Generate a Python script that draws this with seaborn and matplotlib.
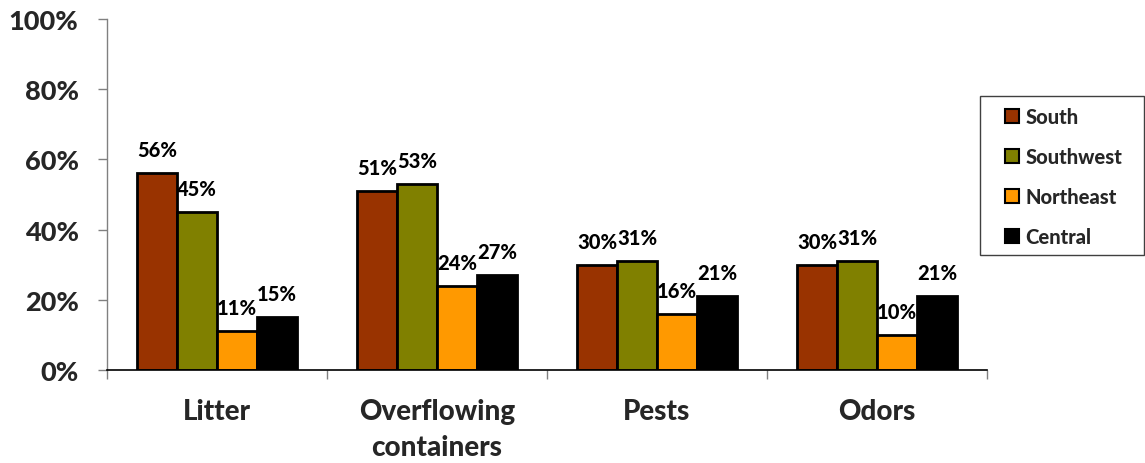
import pandas as pd
import numpy as np
import matplotlib.pyplot as plt
import matplotlib.ticker as ticker
from matplotlib.patches import Patch, Rectangle
import seaborn as sns

# ─────────────────────────────────────────────
# DATA
# ─────────────────────────────────────────────
CATEGORIES = ["Litter", "Overflowing\ncontainers", "Pests", "Odors"]
REGIONS = ["South", "Southwest", "Northeast", "Central"]
SOUTH = [56, 51, 30, 30]
SOUTHWEST = [45, 53, 31, 31]
NORTHEAST = [11, 24, 16, 10]
CENTRAL = [15, 27, 21, 21]

COLORS = ["#993300", "#808000", "#FF9900", "#000000"]
WEIGHT = 900
W, H = 1145, 464

sns.set_theme(style="white")
plt.rcParams["font.family"] = ["Lato", "DejaVu Sans"]
plt.rcParams["font.weight"] = WEIGHT

rows = []
for region, vals in zip(REGIONS, [SOUTH, SOUTHWEST, NORTHEAST, CENTRAL]):
    for cat, v in zip(CATEGORIES, vals):
        rows.append({"Category": cat, "Region": region, "Value": v})
df = pd.DataFrame(rows)

fig = plt.figure(figsize=(W / 100, H / 100), dpi=100)
ax = fig.add_axes([107 / W, 1 - 371 / H, 880 / W, 351 / H])

sns.barplot(data=df, x="Category", y="Value", hue="Region",
            order=CATEGORIES, hue_order=REGIONS, palette=COLORS,
            width=160 / 220, gap=0, edgecolor="black", linewidth=2,
            saturation=1, errorbar=None, legend=False, ax=ax)

# data labels above each bar
for container in ax.containers:
    for bar in container:
        h = bar.get_height()
        ax.annotate(f"{h:.0f}%", (bar.get_x() + bar.get_width() / 2, h),
                    xytext=(0, 17), textcoords="offset points",
                    ha="center", va="center", fontsize=14.5, fontweight=WEIGHT,
                    color="black")

ax.set_xlim(-0.5, 3.5)
ax.set_ylim(0, 100)
ax.yaxis.set_major_locator(ticker.MultipleLocator(20))
ax.yaxis.set_major_formatter(ticker.FuncFormatter(lambda v, p: f"{v:.0f}%"))
ax.set_xlabel("")
ax.set_ylabel("")

ax.set_xticks(range(len(CATEGORIES)))
ax.set_xticklabels(CATEGORIES, fontsize=20, fontweight=WEIGHT, linespacing=1.48)
ax.set_xticks(np.arange(-0.5, len(CATEGORIES)), minor=True)
ax.tick_params(axis="x", which="major", length=0, pad=20)
ax.tick_params(axis="x", which="minor", length=6.5, width=1, color="#808080",
               direction="out", bottom=True)
ax.tick_params(axis="y", which="major", length=6.5, width=1, color="#808080",
               direction="out", left=True, pad=14, labelsize=19.5)
for lab in ax.get_yticklabels():
    lab.set_fontweight(WEIGHT)

for side in ["top", "right"]:
    ax.spines[side].set_visible(False)
ax.spines["left"].set_color("#808080")
ax.spines["left"].set_linewidth(1)
ax.spines["bottom"].set_color("black")
ax.spines["bottom"].set_linewidth(1.2)

# legend frame drawn separately so its size matches the reference box
fig.patches.append(Rectangle((980 / W, 1 - 256 / H), 164 / W, 159 / H,
                             transform=fig.transFigure, facecolor="white",
                             edgecolor="#404040", linewidth=1, zorder=1))
handles = [Patch(facecolor=c, edgecolor="black", linewidth=1.5, label=r)
           for c, r in zip(COLORS, REGIONS)]
leg = fig.legend(handles=handles, loc="upper left",
                 bbox_to_anchor=(1005 / W, 1 - 108 / H),
                 frameon=False, prop={"weight": WEIGHT, "size": 14.5},
                 handlelength=0.7, handleheight=0.7, handletextpad=0.3,
                 labelspacing=1.05, borderpad=0, borderaxespad=0)
leg.set_zorder(2)

fig.savefig("out.png", dpi=100)
